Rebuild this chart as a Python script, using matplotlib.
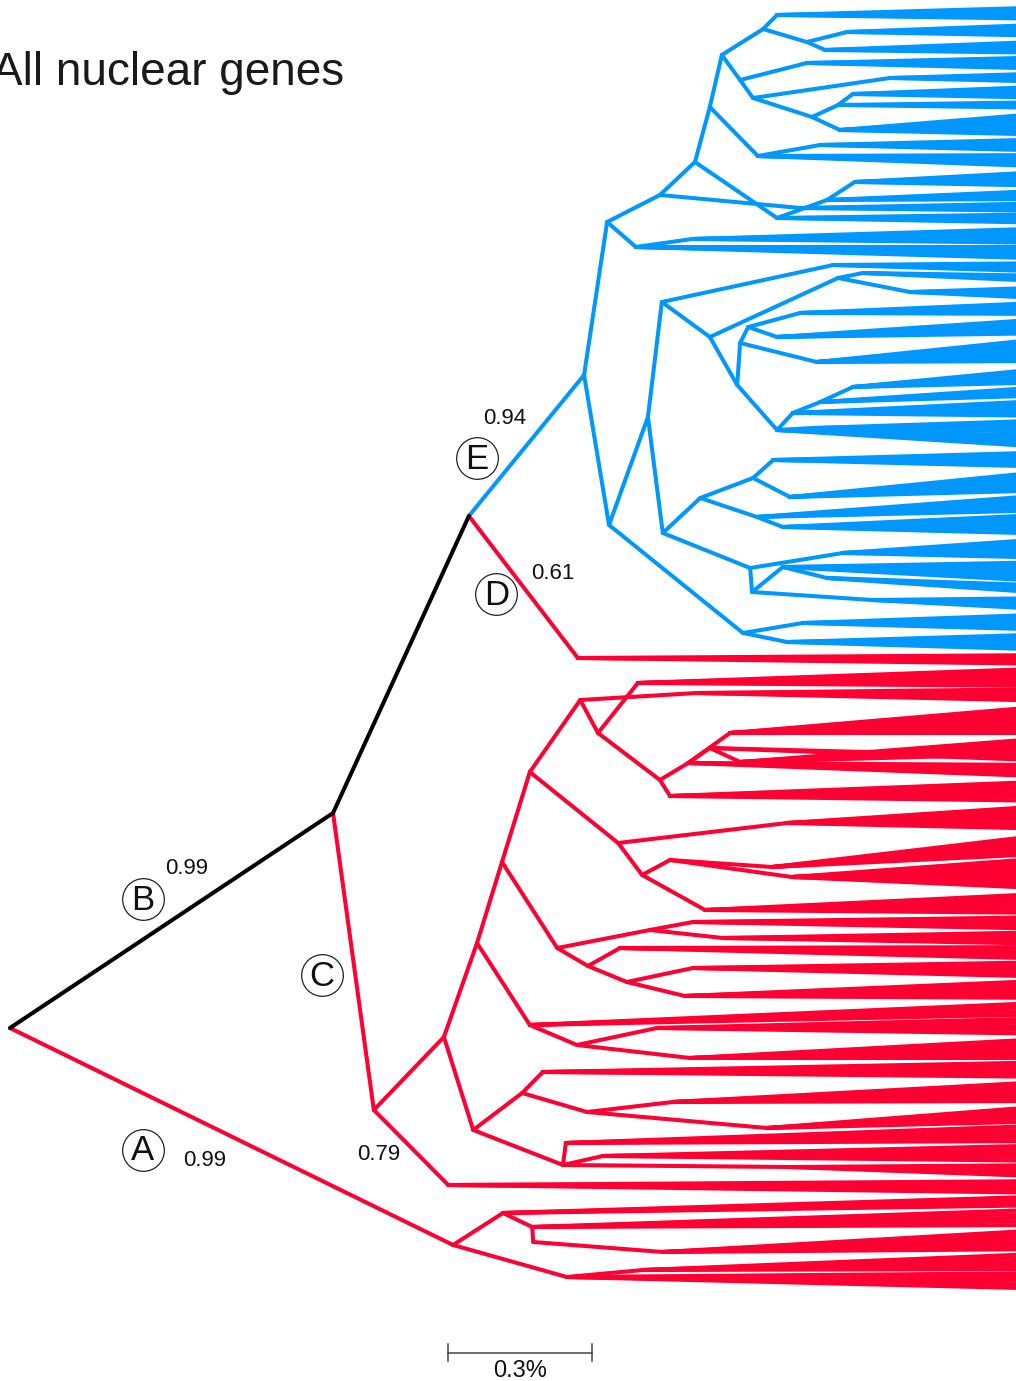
import matplotlib
matplotlib.use("Agg")
import matplotlib.pyplot as plt
from matplotlib.collections import LineCollection

plt.rcParams['font.family'] = ['Liberation Sans', 'DejaVu Sans']

BLUE = '#0098ff'
RED = '#ff0033'
BLACK = '#000000'

# internal nodes: name, parent, distance from root (%), row position
node_name = ['root', 'B', 'A', 'BE', 'C', 'E', 'D',
             'b1', 'b2', 'b3', 'b4', 'b5', 'b6', 'b7', 'b8', 'b9', 'b10',
             'b11', 'b12', 'b13', 'b14', 'b15', 'b16', 'b17', 'b18', 'b19', 'b20',
             'b21', 'b22', 'b23', 'b24', 'b25', 'b26',
             'n609', 'n648', 'n662', 'n833', 'n710', 'n838', 's1', 's2',
             'n737', 'n740', 'n748', 'n800', 'n777a', 'n817',
             'n777b', 'n793', 'n820', 'n853', 'n813',
             'n663', 'n700', 'n753', 'n773', 'n790', 'n757', 'n783',
             'n750', 'n843', 'n752', 'n783b', 'n827', 'n872',
             'n743', 'n803', 'n797',
             'c444', 'c448', 'c477', 'c473', 'c502', 'c530b', 'c530', 'c557',
             'c580', 'c598', 'c638', 'c697', 'c660', 'c688', 'c730', 'c710', 'c740',
             'c670', 'c618', 'c787', 'c642', 'c670b', 'c772', 'c792', 'c705',
             'c650', 'c703', 'c723', 'c588', 'c620', 'c627', 'c693', 'c685',
             'c577', 'c657', 'c690', 'c522', 'c543', 'c587', 'c673', 'c767',
             'c567', 'c562', 'c603', 'c790',
             'a503', 'a530', 'a533', 'a663', 'a567', 'a643']
node_parent = [None, 'root', 'root', 'B', 'B', 'BE', 'BE',
               'E', 'b1', 'b2', 'b3', 'b4', 'b5', 'b6', 'b6', 'b8', 'b8',
               'b5', 'b11', 'b11', 'b13', 'b13', 'b15', 'b16', 'b15', 'b4', 'b19',
               'b3', 'b21', 'b22', 'b2', 'b1', 'b25',
               'E', 'n609', 'n648', 'n662', 'n662', 'n710', 'n838', 'n838',
               'n710', 'n737', 'n740', 'n748', 'n748', 'n740',
               'n737', 'n777b', 'n793', 'n820', 'n777b',
               'n648', 'n663', 'n700', 'n753', 'n753', 'n700', 'n757',
               'n663', 'n750', 'n750', 'n752', 'n783b', 'n752',
               'n609', 'n743', 'n743',
               'C', 'C', 'c444', 'c444', 'c477', 'c477', 'c502', 'c502',
               'c530', 'c580', 'c598', 'c580', 'c598', 'c660', 'c688', 'c688', 'c710',
               'c660', 'c530', 'c618', 'c618', 'c642', 'c670b', 'c670b', 'c642',
               'c557', 'c650', 'c650', 'c557', 'c588', 'c588', 'c627', 'c627',
               'c530b', 'c577', 'c577', 'c473', 'c522', 'c522', 'c587', 'c587',
               'c473', 'c567', 'c567', 'c567',
               'A', 'a503', 'a530', 'a533', 'A', 'a567']
node_dist = [0.0, 0.673, 0.923, 0.956, 0.758, 1.196, 1.183,
             1.244, 1.354, 1.427, 1.458, 1.483, 1.569, 1.598, 1.660, 1.744, 1.698,
             1.521, 1.660, 1.548, 1.833, 1.671, 1.725, 1.756, 1.729, 1.558, 1.688,
             1.598, 1.702, 1.760, 1.646, 1.304, 1.421,
             1.248, 1.329, 1.358, 1.715, 1.458, 1.725, 1.777, 1.875,
             1.515, 1.521, 1.538, 1.646, 1.598, 1.681,
             1.598, 1.631, 1.688, 1.756, 1.673,
             1.360, 1.438, 1.548, 1.590, 1.625, 1.556, 1.610,
             1.542, 1.735, 1.546, 1.610, 1.702, 1.796,
             1.527, 1.652, 1.619,
             0.904, 0.913, 0.973, 0.965, 1.025, 1.083, 1.083, 1.140,
             1.188, 1.225, 1.308, 1.431, 1.354, 1.413, 1.500, 1.458, 1.521,
             1.375, 1.267, 1.619, 1.317, 1.375, 1.588, 1.629, 1.448,
             1.333, 1.423, 1.485, 1.204, 1.271, 1.285, 1.423, 1.406,
             1.181, 1.348, 1.417, 1.067, 1.110, 1.202, 1.381, 1.577,
             1.152, 1.158, 1.235, 1.625,
             1.027, 1.088, 1.090, 1.360, 1.160, 1.319]
node_y = [1028, 813, 1245, 516, 1110, 375, 658,
          222, 195, 162, 107, 55, 29, 15, 42, 32, 50,
          80, 63, 98, 78, 117, 105, 94, 130, 156, 145,
          218, 200, 182, 208, 247, 239,
          525, 417, 302, 265, 337, 278, 273, 292,
          385, 343, 327, 313, 337, 362,
          430, 413, 402, 387, 428,
          533, 498, 478, 460, 497, 517, 527,
          568, 553, 592, 567, 578, 600,
          633, 623, 642,
          1037, 1185, 943, 1130, 862, 1025, 772, 948,
          700, 733, 683, 693, 780, 763, 733, 748, 762,
          796, 843, 823, 875, 860, 867, 877, 910,
          930, 922, 938, 966, 948, 982, 968, 996,
          1045, 1028, 1058, 1093, 1072, 1112, 1102, 1128,
          1165, 1143, 1156, 1167,
          1213, 1227, 1242, 1252, 1277, 1270]

# terminal taxa, grouped by the node they hang from
tip_parent = ['D',
              'b7', 'b9', 'b10', 'b12', 'b14', 'b17', 'b16', 'b18', 'b20', 'b19',
              'b23', 'b22', 'b24', 'b21', 'b26', 'b25',
              'n833', 's1', 's2', 'n800', 'n777a', 'n817', 'n853', 'n820',
              'n793', 'n813', 'n777b', 'n773', 'n790', 'n757', 'n783',
              'n843', 'n783b', 'n827', 'n872', 'n803', 'n797',
              'c638', 'c697', 'c730', 'c740', 'c710', 'c688', 'c670', 'c787',
              'c772', 'c792', 'c705', 'c703', 'c723', 'c620', 'c693', 'c685',
              'c530b', 'c657', 'c690', 'c543', 'c673', 'c767', 'c562', 'c603',
              'c790', 'c448', 'a503', 'a530', 'a663', 'a643', 'a567']
tip_rows = [[655, 658, 661, 664],
            [7, 10, 13, 16, 19], [24, 27, 30, 33, 36], [41, 44, 47, 50, 53],
            [57, 60, 63, 66, 69], [73, 76, 79, 82], [86, 89, 92, 95, 98],
            [102, 105, 108], [112, 116, 120, 124, 128, 132, 135],
            [139, 142, 145, 148, 151], [155, 158, 161, 164, 167],
            [171, 174, 177, 180, 183, 186], [190, 193, 196, 199],
            [203, 206, 209, 211], [214, 217, 220, 223],
            [228, 231, 234, 237, 240, 243], [247, 250, 253, 256, 259],
            [263, 266, 269, 272], [276, 279, 282], [287, 290, 293, 296, 299],
            [302, 305, 308, 311, 314], [318, 321, 324, 327, 330, 333],
            [337, 341, 345, 349, 353, 357, 361], [367, 370, 373, 376, 379, 382],
            [386, 389, 392, 395], [400, 404, 408, 412, 416], [420, 424, 428, 432],
            [436, 440, 444, 448], [452, 455, 458, 461, 464, 467],
            [470, 474, 478, 482, 486, 490], [494, 498, 502, 506, 510],
            [514, 518, 522, 526, 530, 534], [538, 542, 546, 550, 554, 558],
            [562, 566, 570, 574, 578, 582], [586, 590, 594], [598, 602, 606, 610],
            [614, 618, 622, 626, 630], [634, 638, 642, 646, 650],
            [668, 671, 674, 677, 680, 683, 686], [689, 692, 695, 698, 701],
            [705, 709, 713, 717, 721, 725, 729, 733], [737, 741, 745, 749, 753],
            [757, 761], [765, 769, 773, 777], [781, 785, 789, 793, 797, 801],
            [805, 809, 813, 817, 821, 825, 829], [833, 837, 841, 845, 849, 853],
            [857, 861, 865, 869, 873, 877, 881, 885, 889],
            [893, 897, 901, 905, 909, 913], [917, 920, 923, 926, 929],
            [932, 935, 938, 941, 944], [947, 950, 953, 956, 959],
            [962, 965, 968, 971, 974, 977], [980, 983, 986, 989, 992, 995, 998],
            [1002, 1006, 1010, 1014], [1018, 1022, 1026, 1030, 1034],
            [1038, 1042, 1046, 1050, 1054, 1058], [1062, 1065, 1068, 1071, 1074, 1077],
            [1081, 1085, 1089, 1093, 1097, 1101], [1105, 1109, 1113, 1117, 1121],
            [1125, 1129, 1133, 1137, 1141], [1145, 1149, 1153, 1157, 1161],
            [1165, 1169, 1173, 1177], [1181, 1184, 1187, 1190, 1193],
            [1196, 1199, 1202, 1205], [1209, 1213, 1217, 1221, 1225],
            [1229, 1233, 1237, 1241, 1245, 1249], [1253, 1257, 1261, 1265, 1269],
            [1273, 1277, 1281, 1285, 1289]]
tip_dist = 2.19

# branch colours start at these nodes and are inherited downwards
clade_colour = {'B': BLACK, 'BE': BLACK, 'E': BLUE, 'D': RED, 'C': RED, 'A': RED}

# posterior support on the labelled branches
support = {'A': 0.99, 'B': 0.99, 'C': 0.79, 'D': 0.61, 'E': 0.94}

pos = {n: (d, y) for n, d, y in zip(node_name, node_dist, node_y)}
colour = {}
for n, p in zip(node_name, node_parent):
    if p is None:
        continue
    colour[n] = clade_colour.get(n, colour.get(p, BLACK))

segs = {BLUE: [], RED: [], BLACK: []}
for n, p in zip(node_name, node_parent):
    if p is None:
        continue
    segs[colour[n]].append([pos[p], pos[n]])
for p, rows in zip(tip_parent, tip_rows):
    for r in rows:
        segs[colour[p]].append([pos[p], (tip_dist, r)])

fig = plt.figure(figsize=(10.16, 13.81), dpi=100)
ax = fig.add_axes([0, 0, 1, 1])
ax.set_xlim(-10 / 480, 1006 / 480)
ax.set_ylim(1381, 0)
ax.axis('off')

for c in (BLUE, RED, BLACK):
    ax.add_collection(LineCollection(segs[c], colors=c, linewidths=2.9,
                                     capstyle='round', joinstyle='round'))

ax.text(-0.0375, 85, 'All nuclear genes', fontsize=33, color='#1a1a1a',
        ha='left', va='baseline')

# branch letters in circles
letters = ['A', 'B', 'C', 'D', 'E']
letter_xy = [(0.277, 1150), (0.277, 899), (0.650, 975), (1.013, 594), (0.973, 458)]
for t, (x, y) in zip(letters, letter_xy):
    ax.scatter([x], [y], s=900, facecolors='white', edgecolors='#222222',
               linewidths=0.9, zorder=4)
    ax.text(x, y + 1, t, fontsize=25, ha='center', va='center', color='#111111',
            zorder=5)

support_xy = {'B': (0.369, 868), 'A': (0.406, 1160), 'C': (0.769, 1154),
              'E': (1.031, 418), 'D': (1.131, 573)}
for k, v in support.items():
    x, y = support_xy[k]
    ax.text(x, y, f'{v:.2f}', fontsize=16, ha='center', va='center',
            color='#111111')

# scale bar, 0.3 %
bar_start = 0.9125
bar_len = 0.3
ax.plot([bar_start, bar_start + bar_len], [1353, 1353], color='#444444', lw=1.1)
for bx in (bar_start, bar_start + bar_len):
    ax.plot([bx, bx], [1344, 1361], color='#444444', lw=1.1)
ax.text(bar_start + bar_len / 2, 1377, '0.3%', fontsize=17, ha='center',
        va='baseline', color='#111111')

fig.savefig('out.png', dpi=100)
